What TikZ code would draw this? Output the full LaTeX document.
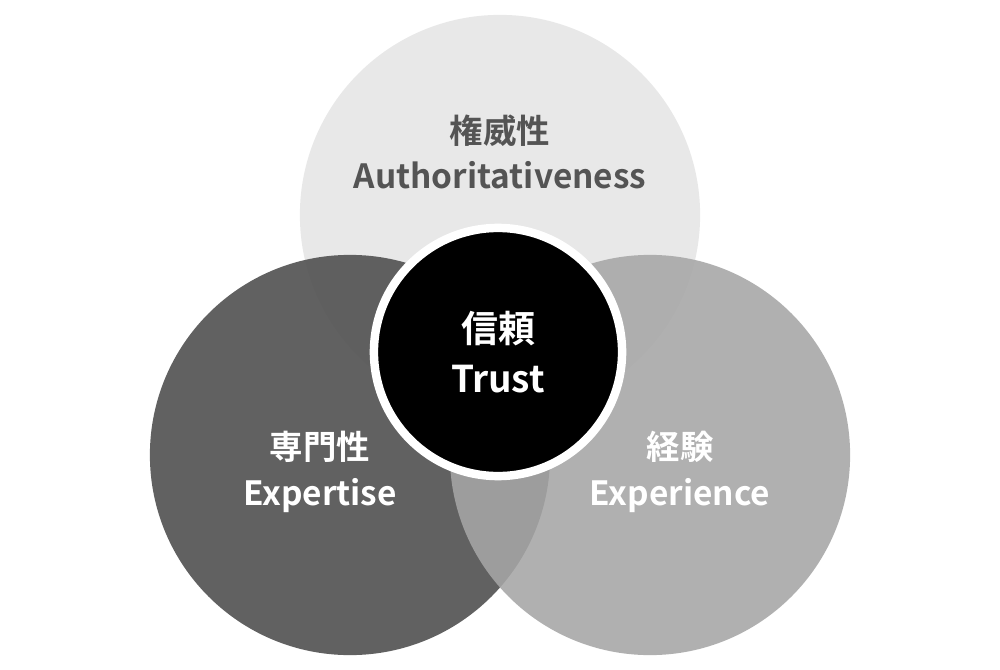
\documentclass[tikz,border=0pt]{standalone}
\usepackage{fontspec}
\setmainfont{Noto Sans CJK JP}[BoldFont={* Bold}]
\usepackage{tikz}

\begin{document}
\begin{tikzpicture}[x=0.01cm,y=-0.01cm]
\tikzset{circ/.style={circle,minimum size=4cm,inner sep=0pt},
  lbl/.style={font=\bfseries\fontsize{9.5pt}{13pt}\selectfont,align=center}}
\useasboundingbox (0,0) rectangle (1000,670);
\fill [white] (0,0) rectangle (1000,670);
% circles
\node [circ,fill=black!9] (auth) at (500,215) {};
\node [circ,fill=black!67,opacity=0.92] (expt) at (350,455) {};
\node [circ,fill=black!35,opacity=0.88] (expr) at (650,455) {};
\node [circle,minimum size=2.48cm,inner sep=0pt,fill=black,draw=white,line width=2.4pt] (trust) at (498,352) {};
% labels
\node [lbl,text=black!67] (authtxt) at (500,152) {権威性\\Authoritativeness};
\node [lbl,text=white] (expttxt) at (320,472) {専門性\\Expertise};
\node [lbl,text=white] (exprtxt) at (680,472) {経験\\Experience};
\node [lbl,text=white,font=\bfseries\fontsize{10.5pt}{14pt}\selectfont] (trusttxt) at (498,352) {信頼\\Trust};
\end{tikzpicture}
\end{document}
